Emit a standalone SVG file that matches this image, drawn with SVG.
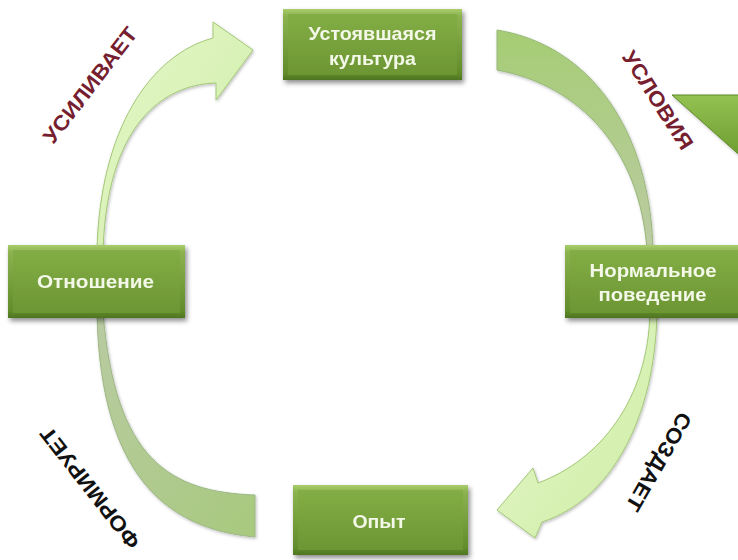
<svg xmlns="http://www.w3.org/2000/svg" width="738" height="560" viewBox="0 0 738 560">
  <defs>
    <linearGradient id="bevel" x1="0" y1="0" x2="0" y2="1">
      <stop offset="0" stop-color="#a9cd6c"/>
      <stop offset="0.1" stop-color="#8bb24f"/>
      <stop offset="0.9" stop-color="#628d2b"/>
      <stop offset="1" stop-color="#4e7420"/>
    </linearGradient>
    <linearGradient id="face" x1="0" y1="0" x2="0" y2="1">
      <stop offset="0" stop-color="#83ad45"/>
      <stop offset="1" stop-color="#6c9633"/>
    </linearGradient>
    <linearGradient id="lightArrow" x1="0" y1="0" x2="1" y2="1">
      <stop offset="0" stop-color="#e6f8cc"/>
      <stop offset="1" stop-color="#cdeca3"/>
    </linearGradient>
    <linearGradient id="midArrowTop" x1="0" y1="0" x2="0" y2="1">
      <stop offset="0" stop-color="#a5cd74"/>
      <stop offset="1" stop-color="#bccba4"/>
    </linearGradient>
    <linearGradient id="midArrowBot" x1="0" y1="0" x2="1" y2="1">
      <stop offset="0" stop-color="#b9cba2"/>
      <stop offset="1" stop-color="#a8c97e"/>
    </linearGradient>
    <linearGradient id="tri" x1="0" y1="0" x2="0" y2="1">
      <stop offset="0" stop-color="#93c152"/>
      <stop offset="1" stop-color="#6c9b2e"/>
    </linearGradient>
    <filter id="shadow" x="-10%" y="-20%" width="130%" height="160%">
      <feDropShadow dx="2" dy="3" stdDeviation="2.5" flood-color="#000" flood-opacity="0.45"/>
    </filter>
    <filter id="soft" x="-10%" y="-10%" width="130%" height="130%">
      <feDropShadow dx="1" dy="1.5" stdDeviation="1.5" flood-color="#000" flood-opacity="0.25"/>
    </filter>
  </defs>
  <style>
    .box-outer { fill: url(#bevel); }
    .box-face { fill: url(#face); }
    .box-text { font-family: "Liberation Sans", Arial, sans-serif; font-weight: bold; font-size: 19px; fill: #f4f8e8; text-anchor: middle; }
    .label { font-family: "Liberation Sans", Arial, sans-serif; font-weight: bold; font-size: 21px; text-anchor: middle; }
    .maroon { fill: #76202f; }
    .black { fill: #111111; }
    .arrow-light { fill: url(#lightArrow); stroke: #a3c877; stroke-width: 1; }
    .arrow-mid-top { fill: url(#midArrowTop); stroke: #98b878; stroke-width: 1; }
    .arrow-mid-bot { fill: url(#midArrowBot); stroke: #9cb884; stroke-width: 1; }
  </style>

  <rect width="738" height="560" fill="#ffffff"/>

  <!-- decorative triangle -->
  <g id="triangle" filter="url(#soft)">
    <polygon points="672,95 745,95 745,160" fill="url(#tri)" stroke="#5f8a2a" stroke-width="1"/>
  </g>

  <g id="connectors">
    <!-- УСИЛИВАЕТ arrow: Отношение -> Устоявшаяся культура -->
    <path class="arrow-light" filter="url(#soft)" d="M97,250 C100,130 150,55 213,38 L213,22 L253,50 L216,100 L216,83 C175,84 108,110 103,250 Z"/>
    <!-- УСЛОВИЯ band: Устоявшаяся культура -> Нормальное поведение -->
    <path class="arrow-mid-top" filter="url(#soft)" d="M497,30 C590,45 650,130 653,250 L647,250 C640,150 580,85 497,70 Z"/>
    <!-- СОЗДАЕТ arrow: Нормальное поведение -> Опыт -->
    <path class="arrow-light" filter="url(#soft)" d="M650,312 C648,400 600,460 538,483 L533,468 L497,510 L535,538 L542,522 C610,500 655,420 657,312 Z"/>
    <!-- ФОРМИРУЕТ band: Опыт -> Отношение -->
    <path class="arrow-mid-bot" filter="url(#soft)" d="M97,312 C100,490 180,530 255,537 L255,495 C170,492 115,460 103,312 Z"/>
  </g>

  <g id="node-culture" filter="url(#shadow)">
    <rect class="box-outer" x="283" y="9" width="179" height="71"/>
    <rect class="box-face" x="288" y="14" width="169" height="61"/>
    <text class="box-text" x="372.5" y="40" textLength="128" lengthAdjust="spacingAndGlyphs">Устоявшаяся</text>
    <text class="box-text" x="372.5" y="65" textLength="87" lengthAdjust="spacingAndGlyphs">культура</text>
  </g>

  <g id="node-attitude" filter="url(#shadow)">
    <rect class="box-outer" x="8" y="245" width="177" height="73"/>
    <rect class="box-face" x="13" y="250" width="167" height="63"/>
    <text class="box-text" x="95.5" y="288" textLength="117" lengthAdjust="spacingAndGlyphs">Отношение</text>
  </g>

  <g id="node-behavior" filter="url(#shadow)">
    <rect class="box-outer" x="565" y="245" width="180" height="73"/>
    <rect class="box-face" x="570" y="250" width="170" height="63"/>
    <text class="box-text" x="653" y="277" textLength="127" lengthAdjust="spacingAndGlyphs">Нормальное</text>
    <text class="box-text" x="652.5" y="301" textLength="108" lengthAdjust="spacingAndGlyphs">поведение</text>
  </g>

  <g id="node-experience" filter="url(#shadow)">
    <rect class="box-outer" x="293" y="485" width="175" height="70"/>
    <rect class="box-face" x="298" y="490" width="165" height="60"/>
    <text class="box-text" x="379" y="528" textLength="53" lengthAdjust="spacingAndGlyphs">Опыт</text>
  </g>

  <g id="labels">
    <text class="label maroon" transform="translate(90,85) rotate(-52.5)" x="0" y="7.5" textLength="140" lengthAdjust="spacingAndGlyphs">УСИЛИВАЕТ</text>
    <text class="label maroon" transform="translate(658,100) rotate(57.4)" x="0" y="7.5" textLength="113" lengthAdjust="spacingAndGlyphs">УСЛОВИЯ</text>
    <text class="label black" transform="translate(659,462) rotate(120)" x="0" y="7.5" textLength="110" lengthAdjust="spacingAndGlyphs">СОЗДАЕТ</text>
    <text class="label black" transform="translate(90,488) rotate(-128)" x="0" y="7.5" textLength="148" lengthAdjust="spacingAndGlyphs">ФОРМИРУЕТ</text>
  </g>
</svg>
